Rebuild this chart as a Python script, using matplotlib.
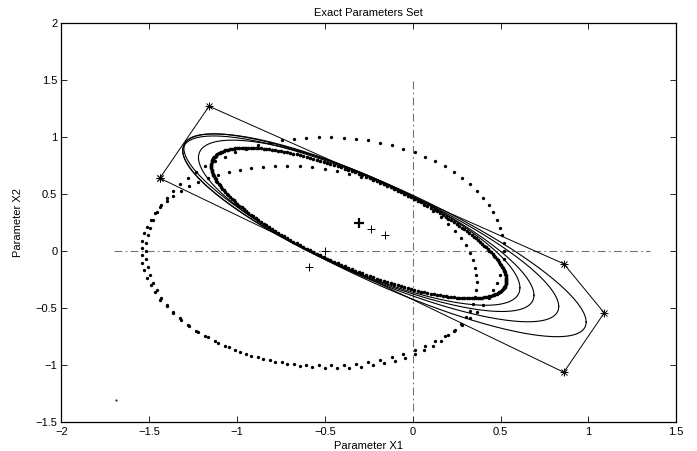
import numpy as np
import matplotlib
matplotlib.use("Agg")
import matplotlib.pyplot as plt

plt.rcParams['font.family'] = ['Liberation Sans', 'DejaVu Sans']

# ellipses as (cx, cy, Lxx, Lyx, Lyy):  x = cx + Lxx*cos t,  y = cy + Lyx*cos t + Lyy*sin t
big_dotted = (-0.50, 0.00, 1.02, 0.0, 1.00)
mid_dotted = (-0.59, -0.138, 0.955, -0.135, 0.875)
exact_dotted = (-0.307, 0.248, 0.84, -0.50, 0.43)
solid_ellipses = [
    (-0.305, 0.25, 0.915, -0.57, 0.445),
    (-0.31, 0.25, 1.00, -0.635, 0.449),
    (-0.239, 0.196, 1.07, -0.68, 0.447),
    (-0.158, 0.14, 1.145, -0.76, 0.46),
]

# polygon vertices (starred)
poly_x = [-1.44, -1.16, 0.86, 1.09, 0.86, -1.44]
poly_y = [0.64, 1.27, -0.11, -0.54, -1.06, 0.64]

# centres (+)
centre_x = [-0.239, -0.158, -0.50, -0.59]
centre_y = [0.196, 0.146, 0.00, -0.138]
main_centre = (-0.307, 0.248)
stray_pt = (-1.69, -1.30)

xticks = [-2, -1.5, -1, -0.5, 0, 0.5, 1, 1.5]
xticklabels = ['−2', '−1.5', '−1', '−0.5', '0', '0.5', '1', '1.5']
yticks = [-1.5, -1, -0.5, 0, 0.5, 1, 1.5, 2]
yticklabels = ['−1.5', '−1', '−0.5', '0', '0.5', '1', '1.5', '2']


def ellipse_pts(e, n):
    cx, cy, lxx, lyx, lyy = e
    t = np.linspace(0, 2 * np.pi, n, endpoint=False)
    return cx + lxx * np.cos(t), cy + lyx * np.cos(t) + lyy * np.sin(t)


fig = plt.figure(figsize=(6.97, 4.51), dpi=100)
ax = fig.add_axes([0.0882, 0.0632, 0.882, 0.886])

# axes cross
ax.plot([-1.7, 1.35], [0, 0], color='0.45', lw=0.8, dashes=(7, 3, 1.5, 3))
ax.plot([0, 0], [-1.4, 1.5], color='0.45', lw=0.8, dashes=(7, 3, 1.5, 3))

# dotted ellipses
x, y = ellipse_pts(big_dotted, 90)
ax.plot(x, y, 'o', color='k', ms=2.4, mew=0)
x, y = ellipse_pts(mid_dotted, 85)
ax.plot(x, y, 'o', color='k', ms=2.4, mew=0)
x, y = ellipse_pts(exact_dotted, 260)
ax.plot(x, y, 'o', color='k', ms=2.6, mew=0)

# solid ellipses
for e in solid_ellipses:
    x, y = ellipse_pts(e, 400)
    ax.plot(np.append(x, x[0]), np.append(y, y[0]), '-', color='k', lw=0.8)

# polygon with asterisk vertices
ax.plot(poly_x, poly_y, '-', color='k', lw=0.7)
ax.plot(poly_x, poly_y, '+', color='k', ms=5.5, mew=0.7)
ax.plot(poly_x, poly_y, 'x', color='k', ms=4.5, mew=0.7)

# centres
ax.plot(centre_x, centre_y, '+', color='k', ms=6, mew=0.7)
ax.plot([main_centre[0]], [main_centre[1]], '+', color='k', ms=6.5, mew=1.6)
ax.plot([stray_pt[0]], [stray_pt[1]], '.', color='k', ms=1)

ax.set_xlim(-2, 1.5)
ax.set_ylim(-1.5, 2)
ax.set_xticks(xticks)
ax.set_xticklabels(xticklabels)
ax.set_yticks(yticks)
ax.set_yticklabels(yticklabels)
ax.tick_params(direction='in', top=True, right=True, length=4, width=0.6,
               labelsize=8, pad=3)
for s in ax.spines.values():
    s.set_linewidth(0.9)

ax.set_title('Exact Parameters Set', fontsize=8, pad=5)
ax.set_xlabel('Parameter X1', fontsize=8, labelpad=3)
ax.set_ylabel('Parameter X2', fontsize=8, labelpad=9)

fig.savefig('out.png', dpi=100)
